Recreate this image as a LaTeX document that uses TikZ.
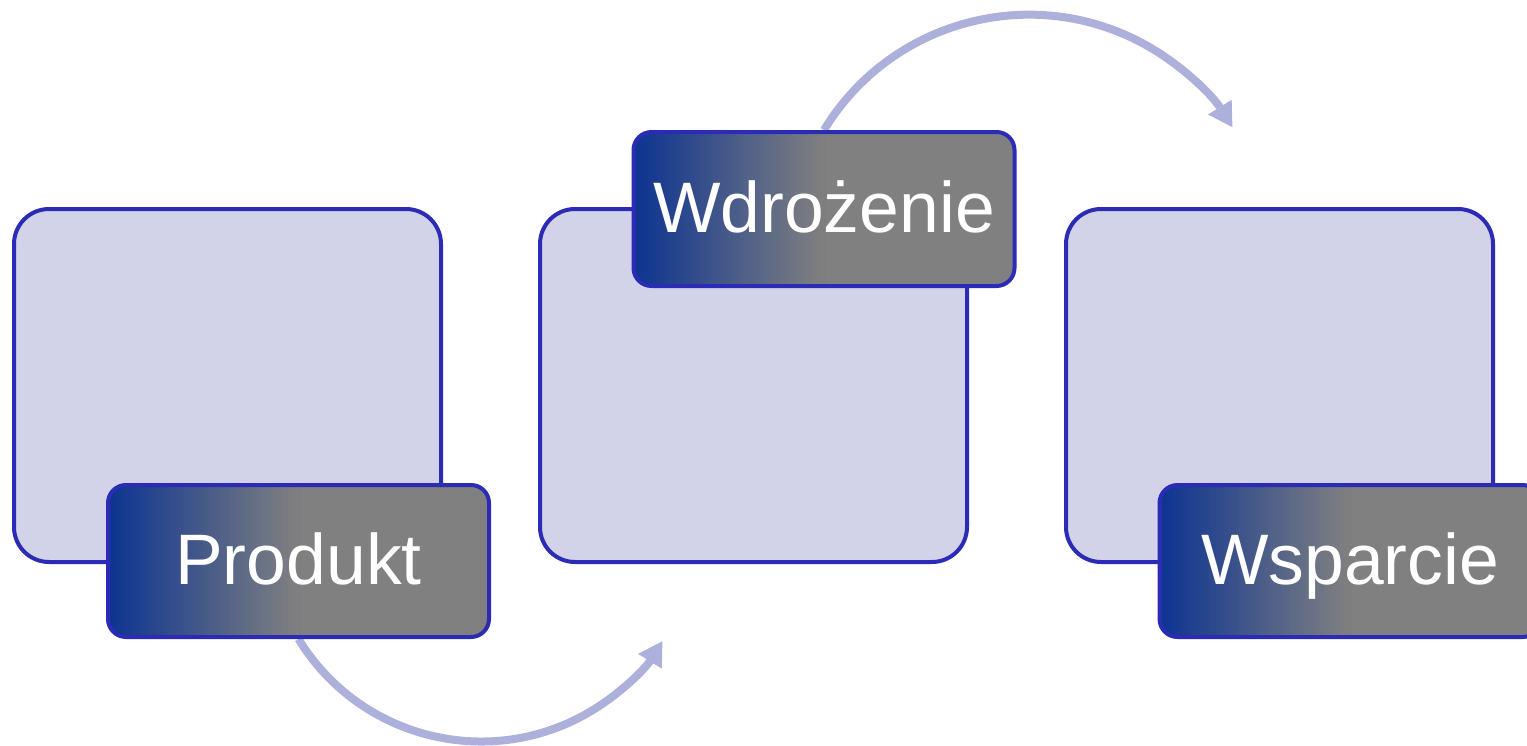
\documentclass[tikz,border=0pt]{standalone}
\usepackage{fontspec}
\setmainfont{Liberation Sans}
\usetikzlibrary{arrows.meta,backgrounds,calc}
\definecolor{bordc}{RGB}{43,43,181}
\definecolor{boxfill}{RGB}{210,211,233}
\definecolor{lblue}{RGB}{10,50,146}
\definecolor{lgray}{RGB}{128,128,128}
\definecolor{arcc}{RGB}{174,176,220}
\tikzset{
  bigbox/.style={draw=bordc, line width=4pt, fill=boxfill, rounded corners=35pt,
    minimum width=427pt, minimum height=353pt, inner sep=0pt},
  lblbox/.style={draw=bordc, line width=4pt, rounded corners=18pt,
    minimum width=381pt, minimum height=152pt, inner sep=0pt, text=white,
    text height=51pt, text depth=5pt,
    font=\fontsize{71.5}{86}\selectfont,
    path picture={
      \fill[sharp corners, lgray]
        ($(path picture bounding box.south west)!0.45!(path picture bounding box.south east)$)
        rectangle ([xshift=5pt]path picture bounding box.north east);
      \foreach \i in {0,...,49}{
        \pgfmathsetmacro\pc{100-2*\i}
        \fill[sharp corners, lblue!\pc!lgray]
          ($([xshift=-5pt]path picture bounding box.south west)!{\i/100}!(path picture bounding box.south east)$)
          rectangle ($(path picture bounding box.north west)!{(\i+1.6)/100}!(path picture bounding box.north east)$);
      }
    }},
  flow/.style={draw=arcc, line width=8pt, -{Triangle[length=24pt,width=26pt]}}
}
\begin{document}
\begin{tikzpicture}[x=1pt,y=-1pt]
\useasboundingbox (0,0) rectangle (1527,745);
\clip (0,0) rectangle (1527,745);
\node[bigbox] (b1) at (227.5,385.5) {};
\node[bigbox] (b2) at (753.5,385.5) {};
\node[bigbox] (b3) at (1279.5,385.5) {};
\node[lblbox] (p) at (298.5,561) {Produkt};
\node[lblbox, minimum height=154pt] (w) at (824,209) {Wdrożenie};
\node[lblbox] (s) at (1350,561) {Wsparcie};
\begin{scope}[on background layer]
\draw[flow] (p.south) arc[start angle=148.6, end angle=32, radius=214];
\draw[flow] (w.north) arc[start angle=211.3, end angle=328, radius=240];
\end{scope}
\end{tikzpicture}
\end{document}
